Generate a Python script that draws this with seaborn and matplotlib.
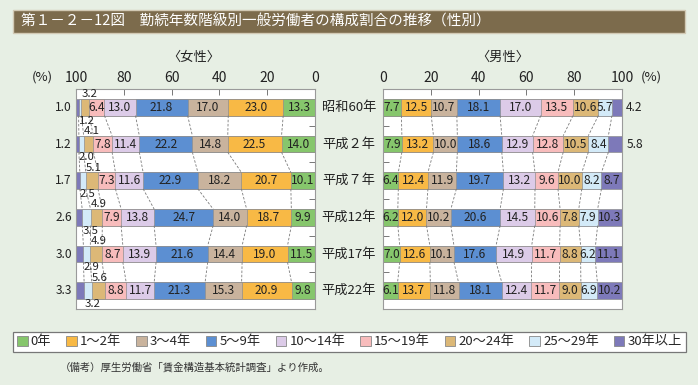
import numpy as np
import pandas as pd
import matplotlib
matplotlib.use("Agg")
import matplotlib.pyplot as plt
import seaborn as sns
from matplotlib.patches import Rectangle, Patch
from matplotlib.transforms import blended_transform_factory

# ---------------- data ----------------
years = ["昭和60年", "平成２年", "平成７年", "平成12年", "平成17年", "平成22年"]
categories = ["0年", "1～2年", "3～4年", "5～9年", "10～14年",
              "15～19年", "20～24年", "25～29年", "30年以上"]

female_0 = [13.3, 14.0, 10.1, 9.9, 11.5, 9.8]
female_1_2 = [23.0, 22.5, 20.7, 18.7, 19.0, 20.9]
female_3_4 = [17.0, 14.8, 18.2, 14.0, 14.4, 15.3]
female_5_9 = [21.8, 22.2, 22.9, 24.7, 21.6, 21.3]
female_10_14 = [13.0, 11.4, 11.6, 13.8, 13.9, 11.7]
female_15_19 = [6.4, 7.8, 7.3, 7.9, 8.7, 8.8]
female_20_24 = [3.2, 4.1, 5.1, 4.9, 4.9, 5.6]
female_25_29 = [1.2, 2.0, 2.5, 3.5, 2.9, 3.2]
female_30 = [1.0, 1.2, 1.7, 2.6, 3.0, 3.3]

male_0 = [7.7, 7.9, 6.4, 6.2, 7.0, 6.1]
male_1_2 = [12.5, 13.2, 12.4, 12.0, 12.6, 13.7]
male_3_4 = [10.7, 10.0, 11.9, 10.2, 10.1, 11.8]
male_5_9 = [18.1, 18.6, 19.7, 20.6, 17.6, 18.1]
male_10_14 = [17.0, 12.9, 13.2, 14.5, 14.9, 12.4]
male_15_19 = [13.5, 12.8, 9.6, 10.6, 11.7, 11.7]
male_20_24 = [10.6, 10.5, 10.0, 7.8, 8.8, 9.0]
male_25_29 = [5.7, 8.4, 8.2, 7.9, 6.2, 6.9]
male_30 = [4.2, 5.8, 8.7, 10.3, 11.1, 10.2]

xticks = [0, 20, 40, 60, 80, 100]
title = "第１－２－12図　勤続年数階級別一般労働者の構成割合の推移（性別）"
note = "（備考）厚生労働省「賃金構造基本統計調査」より作成。"

female_series = [female_0, female_1_2, female_3_4, female_5_9, female_10_14,
                 female_15_19, female_20_24, female_25_29, female_30]
male_series = [male_0, male_1_2, male_3_4, male_5_9, male_10_14,
               male_15_19, male_20_24, male_25_29, male_30]

rows = []
for sex, series in (("女性", female_series), ("男性", male_series)):
    for cat, vals in zip(categories, series):
        for y, v in zip(years, vals):
            rows.append({"sex": sex, "year": y, "category": cat, "value": v})
df = pd.DataFrame(rows)

# ---------------- style ----------------
palette = dict(zip(categories, [
    "#86c66c", "#f8b945", "#c9b39d", "#5c8fd2", "#dccbe8",
    "#f8bcbc", "#dcb877", "#d3eaf8", "#7d79b9"]))

sns.set_style("white")
plt.rcParams["font.family"] = ["Noto Sans CJK JP", "DejaVu Sans"]

W, H = 698, 385
BG = "#e7efe4"
fig = plt.figure(figsize=(W / 100, H / 100), dpi=100, facecolor=BG)


def px(x):
    return x / W


def py(y):
    return 1 - y / H


BAR_H = 0.45
TXT = "#222222"
ax_f = fig.add_axes([px(76), py(309), px(315) - px(76), py(89) - py(309)])
ax_m = fig.add_axes([px(383), py(309), px(622) - px(383), py(89) - py(309)])


def draw_panel(ax, sex):
    sub = df[df["sex"] == sex]
    wide = sub.pivot(index="year", columns="category", values="value").loc[years, categories]
    cum = wide.cumsum(axis=1)
    for k in range(len(categories) - 1, -1, -1):
        c = categories[k]
        d = pd.DataFrame({"year": years, "cum": cum[c].values})
        sns.barplot(data=d, x="cum", y="year", order=years, orient="h",
                    color=palette[c], saturation=1, width=BAR_H,
                    edgecolor="#8f8f8f", linewidth=0.5, ax=ax)
    ax.set_xlim(0, 100)
    ax.set_ylim(5.5, -0.5)
    # dashed connectors
    for i in range(len(years) - 1):
        for k in range(len(categories) - 1):
            c = categories[k]
            ax.plot([cum[c].iloc[i], cum[c].iloc[i + 1]],
                    [i + BAR_H / 2, i + 1 - BAR_H / 2],
                    ls=(0, (3, 2)), color="#7a7a7a", lw=0.6, zorder=1)
    return wide, cum


def style_axes(ax, inner_right):
    ax.set_xlabel("")
    ax.set_ylabel("")
    ax.set_facecolor("white")
    ax.xaxis.tick_top()
    ax.set_xticks(xticks)
    ax.set_xticklabels([str(t) for t in xticks], fontsize=10, color=TXT)
    ax.tick_params(axis="x", direction="in", length=4, width=0.7,
                   color="#777777", pad=3)
    ax.set_yticks([0.5, 1.5, 2.5, 3.5, 4.5])
    ax.set_yticklabels([])
    if inner_right:
        ax.yaxis.tick_right()
    else:
        ax.yaxis.tick_left()
    ax.tick_params(axis="y", direction="in", length=4, width=0.7, color="#777777")
    for s in ax.spines.values():
        s.set_visible(True)
        s.set_color("#9a9a9a")
        s.set_linewidth(0.8)


# female panel (reversed axis)
wide_f, cum_f = draw_panel(ax_f, "女性")
ax_f.invert_xaxis()
style_axes(ax_f, inner_right=True)

FS = 8.6
FS_SMALL = 8.2
for i in range(len(years)):
    for k, c in enumerate(categories):
        v = wide_f[c].iloc[i]
        end = cum_f[c].iloc[i]
        mid = end - v / 2
        lab = f"{v:.1f}"
        if k <= 5:
            ax_f.text(mid, i, lab, ha="center", va="center", fontsize=FS, color=TXT)
        elif k == 6:
            ax_f.text(end, i - 0.355, lab, ha="left", va="center",
                      fontsize=FS_SMALL, color=TXT)
        elif k == 7:
            ax_f.text(end, i + 0.36, lab, ha="left", va="center",
                      fontsize=FS_SMALL, color=TXT)
        else:
            ax_f.annotate(lab, (100, i), xytext=(-3, 0), textcoords="offset points",
                          ha="right", va="center", fontsize=FS, color=TXT,
                          annotation_clip=False)

# male panel
wide_m, cum_m = draw_panel(ax_m, "男性")
style_axes(ax_m, inner_right=False)
for i in range(len(years)):
    for k, c in enumerate(categories):
        v = wide_m[c].iloc[i]
        end = cum_m[c].iloc[i]
        mid = end - v / 2
        lab = f"{v:.1f}"
        if k == 8 and v < 6:
            ax_m.annotate(lab, (100, i), xytext=(3, 0), textcoords="offset points",
                          ha="left", va="center", fontsize=FS, color=TXT,
                          annotation_clip=False)
        else:
            ax_m.text(mid, i, lab, ha="center", va="center", fontsize=FS, color=TXT)

# year labels between panels
tr = blended_transform_factory(fig.transFigure, ax_m.transData)
for i, y in enumerate(years):
    ax_m.text(px(349), i, y, transform=tr, ha="center", va="center",
              fontsize=9.5, color=TXT, clip_on=False)

# panel titles and units
fig.text(px(194), py(57), "〈女性〉", ha="center", va="center", fontsize=9.5, color=TXT)
fig.text(px(503), py(57), "〈男性〉", ha="center", va="center", fontsize=9.5, color=TXT)
fig.text(px(42), py(77), "(%)", ha="center", va="center", fontsize=9.5, color=TXT)
fig.text(px(651), py(77), "(%)", ha="center", va="center", fontsize=9.5, color=TXT)

# title bar
fig.patches.append(Rectangle((px(13), py(33)), px(685) - px(13), py(10) - py(33),
                             transform=fig.transFigure, facecolor="#7c6b4c",
                             edgecolor="#d2c9b4", lw=1.0, zorder=0))
fig.text(px(21), py(21.5), title, ha="left", va="center", fontsize=10.5,
         color="white")

# legend
handles = [Patch(facecolor=palette[c], edgecolor="#888888", linewidth=0.6, label=c)
           for c in categories]
leg = fig.legend(handles=handles, ncol=9, loc="center",
                 bbox_to_anchor=(px(13), py(353), px(686) - px(13), py(331) - py(353)),
                 mode="expand", fontsize=9.5, frameon=True, fancybox=False,
                 edgecolor="#777777", facecolor="white", framealpha=1,
                 handlelength=0.8, handleheight=0.8, handletextpad=0.25,
                 borderpad=0.3, columnspacing=0.5, borderaxespad=0)
leg.get_frame().set_linewidth(0.9)

fig.text(px(60), py(367), note, ha="left", va="center", fontsize=7.5, color="#333333")

fig.savefig("out.png", dpi=100, facecolor=fig.get_facecolor())
